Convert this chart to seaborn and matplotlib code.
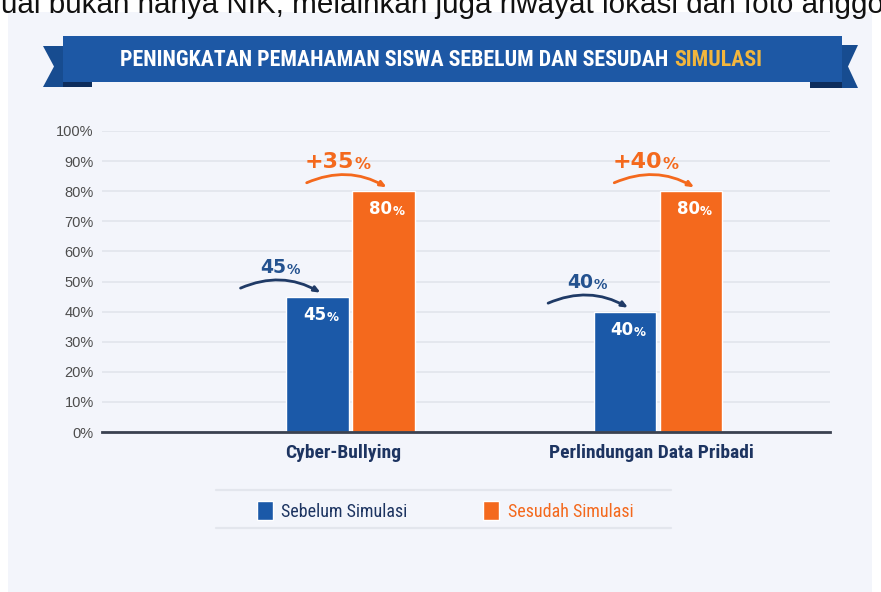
import matplotlib
matplotlib.use("Agg")
import matplotlib.pyplot as plt
import matplotlib.font_manager as fm
import matplotlib.transforms as mtransforms
from matplotlib.patches import Polygon, Rectangle
from matplotlib.lines import Line2D
import pandas as pd
import seaborn as sns

kategori = ["Cyber-Bullying", "Perlindungan Data Pribadi"]
seri = ["Sebelum Simulasi", "Sesudah Simulasi"]
sebelum = [45, 40]
sesudah = [80, 80]
yticks = [0, 10, 20, 30, 40, 50, 60, 70, 80, 90, 100]

judul = "PENINGKATAN PEMAHAMAN SISWA SEBELUM DAN SESUDAH"
judul_sorot = "SIMULASI"
teks_atas = "uai bukan hanya NIK, melainkan juga riwayat lokasi dan foto anggo"

BIRU = "#1b59a8"
ORANYE = "#f4691d"
NAVY = "#1d3461"
PANAH_BIRU = "#1f3a66"
LABEL_BIRU = "#24528f"
EMAS = "#f2b63d"

sns.set_style("white")
names = {f.name for f in fm.fontManager.ttflist}
narrow = next((n for n in ["Liberation Sans Narrow", "Roboto Condensed", "Open Sans Condensed"]
               if n in names), "Liberation Sans")
plt.rcParams["font.family"] = ["Liberation Sans", "DejaVu Sans"]

W, H = 881, 592
fig = plt.figure(figsize=(W / 100, H / 100), dpi=100)
fig.patch.set_facecolor("white")


def fx(px):
    return px / W


def fy(py):
    return 1 - py / H


def poly(pts, color, z=1):
    fig.add_artist(Polygon([(fx(x), fy(y)) for x, y in pts], closed=True,
                           transform=fig.transFigure, facecolor=color,
                           edgecolor="none", zorder=z))


# light panel behind the whole infographic
fig.add_artist(Rectangle((fx(8), 0), fx(872) - fx(8), fy(12), transform=fig.transFigure,
                         facecolor="#f3f5fb", edgecolor="none", zorder=-2))

# caption line at the very top of the screenshot (cropped in the source)
top = fig.text(fx(1), fy(13), teks_atas, fontsize=18, color="#111111",
               ha="left", va="baseline", zorder=5)

# ribbon banner
poly([(43, 46), (92, 46), (92, 87), (43, 87), (54, 66.5)], "#174c90")
poly([(63, 82), (92, 82), (92, 87), (63, 87)], "#0d2d5c", 1.5)
poly([(810, 45), (858, 45), (848, 66.5), (858, 88), (810, 88)], "#174c90")
poly([(810, 80), (842, 80), (842, 88), (810, 88)], "#0d2d5c", 1.5)
poly([(63, 36), (842, 36), (842, 82), (63, 82)], "#1d58a5", 2)

t_judul = fig.text(fx(120), fy(60.5), judul, color="white", fontsize=15, fontweight="bold",
                   family=narrow, ha="left", va="center", zorder=3)

# fit the two long texts to their widths in the reference
fig.canvas.draw()
r = fig.canvas.get_renderer()
w = t_judul.get_window_extent(r).width
t_judul.set_fontsize(15 * 550 / w)
w = top.get_window_extent(r).width
top.set_fontsize(18 * 884 / w)

fig.add_artist(plt.Annotation(judul_sorot, xy=(1, 0.5), xycoords=t_judul, xytext=(4.5, 0),
                              textcoords="offset points", ha="left", va="center",
                              color=EMAS, fontsize=t_judul.get_fontsize(),
                              fontweight="bold", family=narrow, zorder=3))

# chart
ax = fig.add_axes([fx(102), fy(432), fx(830) - fx(102), (432 - 131) / H])
ax.set_facecolor("none")

df = pd.DataFrame({
    "kategori": kategori + kategori,
    "waktu": [seri[0]] * len(kategori) + [seri[1]] * len(kategori),
    "nilai": sebelum + sesudah,
})
sns.barplot(data=df, x="kategori", y="nilai", hue="waktu", order=kategori, hue_order=seri,
            palette=[BIRU, ORANYE], saturation=1, width=0.43, gap=0.06, errorbar=None, ax=ax)

ax.set_xlim(-0.808, 1.559)
ax.set_ylim(0, 100)
ax.set_yticks(yticks)
ax.set_yticklabels([f"{v}%" for v in yticks])
ax.grid(axis="y", color="#e2e5ec", linewidth=1.2)
ax.set_axisbelow(True)
for s in ["left", "right", "top"]:
    ax.spines[s].set_visible(False)
ax.spines["bottom"].set_color("#3a4150")
ax.spines["bottom"].set_linewidth(2)
ax.tick_params(length=0)
ax.tick_params(axis="y", pad=6, labelsize=10.5, labelcolor="#4d4d4d")
ax.tick_params(axis="x", pad=9, labelsize=14)
geser = mtransforms.ScaledTranslation(-7 / 100, 0, fig.dpi_scale_trans)
for lbl in ax.get_xticklabels():
    lbl.set_fontweight("bold")
    lbl.set_color(NAVY)
    lbl.set_family(narrow)
    lbl.set_transform(lbl.get_transform() + geser)
ax.set_xlabel("")
ax.set_ylabel("")


def pct(x, y, num, color, size):
    t = ax.text(x, y, num, color=color, fontsize=size, fontweight="bold",
                family="DejaVu Sans", ha="center", va="center")
    ax.annotate("%", xy=(1, 0), xycoords=t, xytext=(0.3, 0), textcoords="offset points",
                ha="left", va="bottom", color=color, fontsize=size * 0.72,
                fontweight="bold", family="DejaVu Sans")
    return t


labels_atas = [[f"{v}" for v in sebelum],
               [f"+{a - b}" for a, b in zip(sesudah, sebelum)]]
warna_panah = [PANAH_BIRU, ORANYE]
warna_label = [LABEL_BIRU, ORANYE]
for k, cont in enumerate(ax.containers[:2]):
    for i, bar in enumerate(cont):
        c = bar.get_x() + bar.get_width() / 2
        v = bar.get_height()
        ax.annotate("", xy=(c + 0.01, v + 1.3), xytext=(c - 0.25, v + 2.8),
                    arrowprops=dict(arrowstyle="-|>,head_length=0.35,head_width=0.15",
                                    connectionstyle="arc3,rad=-0.25", color=warna_panah[k],
                                    lw=2, shrinkA=0, shrinkB=0))
        pct(c - (0.175 if k else 0.145), v + 9.8, labels_atas[k][i], warna_label[k],
            16 if k else 13.5)
        pct(c - 0.01, v - 6, f"{v:.0f}", "white", 12)

# legend strip
handles, _ = ax.get_legend_handles_labels()
if ax.legend_ is not None:
    ax.legend_.remove()
leg = fig.legend(handles, seri, loc="center", bbox_to_anchor=(fx(445), fy(511)), ncol=2,
                 frameon=False, handlelength=0.9, handleheight=1.25,
                 handletextpad=0.45, columnspacing=4.2, prop={"family": narrow, "size": 13})
leg.get_texts()[0].set_color(NAVY)
leg.get_texts()[1].set_color(ORANYE)
for yy in [490, 528]:
    fig.add_artist(Line2D([fx(216), fx(671)], [fy(yy), fy(yy)], color="#e3e6ed", lw=1.6,
                          transform=fig.transFigure, zorder=-1))

fig.savefig("out.png", dpi=100)
